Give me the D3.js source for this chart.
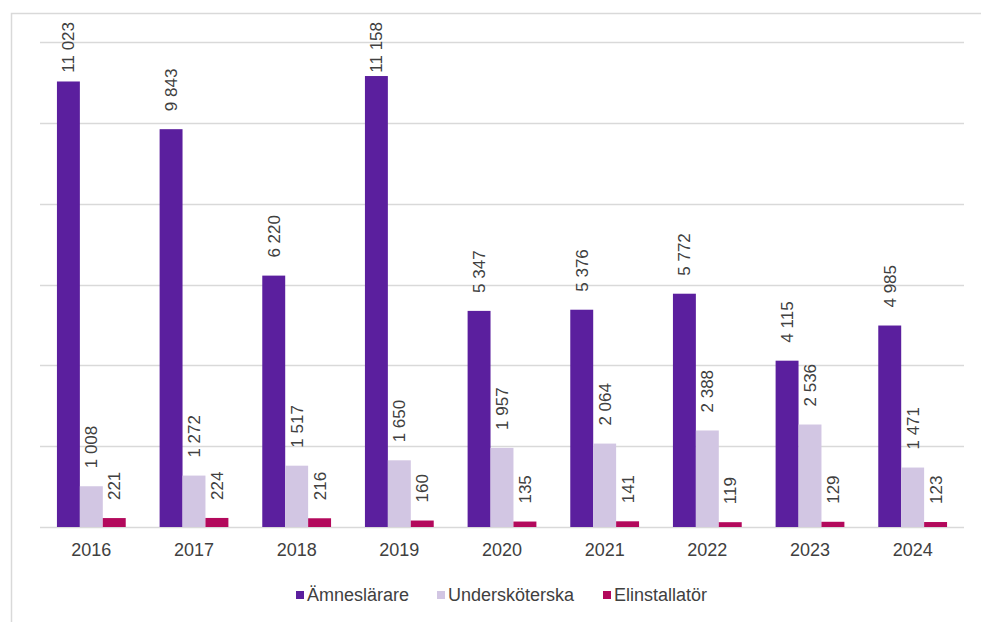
<!DOCTYPE html>
<html>
<head>
  <meta charset="utf-8">
  <style>
    body { margin: 0; background: #fff; font-family: 'Liberation Sans', Arial, sans-serif; }
    .grid line { stroke: #d9d9d9; stroke-width: 1.5px; }
    .label { fill: #404040; font-size: 17px; }
    .year { fill: #404040; font-size: 18px; text-anchor: middle; }
    .legend text { fill: #404040; font-size: 18px; }
  </style>
</head>
<body>
  <div id="chart"></div>
  <script src="https://d3js.org/d3.v7.min.js"></script>
  <script>
    var years = ['2016', '2017', '2018', '2019', '2020', '2021', '2022', '2023', '2024'];
    var amneslarare = [11023, 9843, 6220, 11158, 5347, 5376, 5772, 4115, 4985];
    var underskoterska = [1008, 1272, 1517, 1650, 1957, 2064, 2388, 2536, 1471];
    var elinstallator = [221, 224, 216, 160, 135, 141, 119, 129, 123];
    var seriesNames = ['Ämneslärare', 'Undersköterska', 'Elinstallatör'];
    var gridTicks = [0, 2000, 4000, 6000, 8000, 10000, 12000];

    var colors = ['#5b1f9e', '#d2c6e3', '#b3095c'];
    var seriesValues = [amneslarare, underskoterska, elinstallator];

    var width = 981,
      height = 622,
      plot = { left: 40, right: 964, top: 42, bottom: 527 };

    var svg = d3.select('#chart').append('svg')
      .attr('width', width)
      .attr('height', height);

    // outer frame, only top and left visible like the cropped original
    svg.append('rect')
      .attr('x', 11.5)
      .attr('y', 13.5)
      .attr('width', width + 20)
      .attr('height', height + 20)
      .attr('fill', 'none')
      .attr('stroke', '#d9d9d9')
      .attr('stroke-width', 1.5);

    var x = d3.scaleBand()
      .domain(years)
      .range([plot.left, plot.right])
      .paddingInner(0.33)
      .paddingOuter(0.165);

    var xs = d3.scaleBand()
      .domain(d3.range(seriesNames.length))
      .range([0, x.bandwidth()]);

    var y = d3.scaleLinear()
      .domain([0, 12000])
      .range([plot.bottom, plot.top]);

    svg.append('g')
      .attr('class', 'grid')
      .selectAll('line')
      .data(gridTicks)
      .enter().append('line')
      .attr('x1', plot.left)
      .attr('x2', plot.right)
      .attr('y1', function(d) { return Math.round(y(d)) + 0.5; })
      .attr('y2', function(d) { return Math.round(y(d)) + 0.5; });

    var rows = [];
    years.forEach(function(yr, i) {
      seriesValues.forEach(function(vals, s) {
        rows.push({ year: yr, s: s, value: vals[i] });
      });
    });

    var bars = svg.append('g');

    bars.selectAll('rect')
      .data(rows)
      .enter().append('rect')
      .attr('x', function(d) { return x(d.year) + xs(d.s); })
      .attr('width', xs.bandwidth())
      .attr('y', function(d) { return y(d.value); })
      .attr('height', function(d) { return y(0) - y(d.value); })
      .attr('fill', function(d) { return colors[d.s]; });

    // value labels, rotated; pushed down when they would leave the plot area
    var fmt = function(v) { return d3.format(',')(v).replace(/,/g, ' '); };
    bars.selectAll('text')
      .data(rows)
      .enter().append('text')
      .attr('class', 'label')
      .text(function(d) { return fmt(d.value); })
      .each(function(d) {
        var len = this.getComputedTextLength();
        var cx = x(d.year) + xs(d.s) + xs.bandwidth() / 2;
        var bottom = Math.max(y(d.value) - 18, 22 + len);
        d3.select(this)
          .attr('dy', '0.35em')
          .attr('transform', 'translate(' + cx + ',' + bottom + ') rotate(-90)');
      });

    svg.append('g')
      .selectAll('text')
      .data(years)
      .enter().append('text')
      .attr('class', 'year')
      .attr('x', function(d) { return x(d) + x.bandwidth() / 2; })
      .attr('y', 556)
      .text(function(d) { return d; });

    var legendX = [296, 437, 603];
    var legend = svg.append('g')
      .attr('class', 'legend')
      .selectAll('g')
      .data(seriesNames)
      .enter().append('g')
      .attr('transform', function(d, i) { return 'translate(' + legendX[i] + ',595)'; });

    legend.append('rect')
      .attr('x', 0)
      .attr('y', -4)
      .attr('width', 8)
      .attr('height', 8)
      .attr('fill', function(d, i) { return colors[i]; });

    legend.append('text')
      .attr('x', 11)
      .attr('dy', '0.35em')
      .text(function(d) { return d; });
  </script>
</body>
</html>
